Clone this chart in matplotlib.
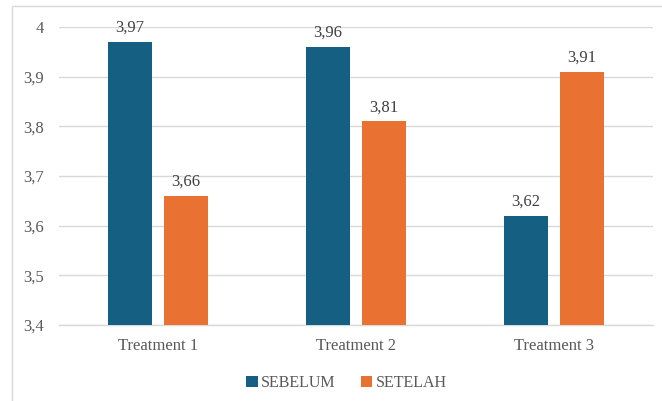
import numpy as np
import matplotlib.pyplot as plt
from matplotlib.patches import Rectangle

categories = ["Treatment 1", "Treatment 2", "Treatment 3"]
sebelum = [3.97, 3.96, 3.62]
setelah = [3.66, 3.81, 3.91]
series_names = ["SEBELUM", "SETELAH"]

blue = "#156082"
orange = "#E97132"
grid_c = "#D9D9D9"
text_c = "#595959"

plt.rcParams['font.family'] = 'serif'
plt.rcParams['font.serif'] = ['Liberation Serif', 'Times New Roman', 'DejaVu Serif']

W, H = 662, 401
fig = plt.figure(figsize=(W / 100, H / 100), dpi=100)
ax = fig.add_axes([59 / W, 1 - 325 / H, 594 / W, 298 / H])

# chart border
fig.patches.append(Rectangle((12 / W, -0.1), 1.2, 1.1 - 6 / H, transform=fig.transFigure,
                             fill=False, edgecolor=grid_c, linewidth=1, clip_on=False))

x = np.arange(len(categories))
bw = 0.222
off = 0.141
ax.bar(x - off, np.array(sebelum) - 3.4, bw, bottom=3.4, color=blue, label=series_names[0], zorder=3)
ax.bar(x + off, np.array(setelah) - 3.4, bw, bottom=3.4, color=orange, label=series_names[1], zorder=3)

for xs, vals in ((x - off, sebelum), (x + off, setelah)):
    for xi, v in zip(xs, vals):
        ax.text(xi, v + 0.012, f"{v:.2f}".replace('.', ','), ha='center', va='bottom',
                fontsize=12, color="#404040")

ax.set_xlim(-0.5, 2.5)
ax.set_ylim(3.4, 4.0)
yt = np.arange(3.4, 4.01, 0.1)
ax.set_yticks(yt)
ax.set_yticklabels([("%.1f" % t).replace('.', ',').replace('4,0', '4') for t in yt])
ax.set_xticks(x)
ax.set_xticklabels(categories)
ax.yaxis.grid(True, color=grid_c, linewidth=1, zorder=0)
ax.set_axisbelow(True)
for s in ['top', 'right', 'left']:
    ax.spines[s].set_visible(False)
ax.spines['bottom'].set_color(grid_c)
ax.spines['bottom'].set_linewidth(1)
ax.tick_params(axis='both', length=0, labelsize=12, labelcolor=text_c)
ax.tick_params(axis='y', pad=11)
ax.tick_params(axis='x', pad=9.5)

ax.legend(loc='center', bbox_to_anchor=((346.5 - 59) / 594, (1 - 383 / H - (1 - 325 / H)) / (298 / H)),
          ncol=2, frameon=False, fontsize=11.5, labelcolor=text_c,
          handlelength=0.7, handleheight=0.7, handletextpad=0.2, columnspacing=1.6)

fig.savefig("out.png", dpi=100)
